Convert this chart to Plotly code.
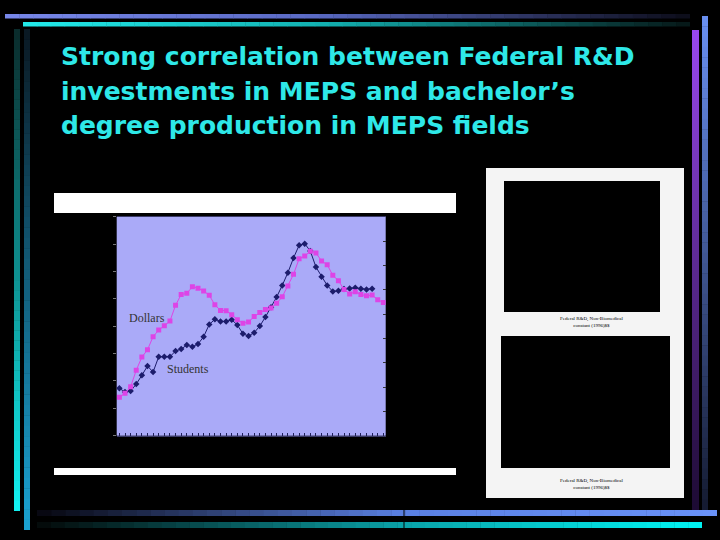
import plotly.graph_objects as go

# federal R&D dollars (non-biomedical, constant 1996 $, billions) - right axis
years_dollars = list(range(1953, 2001))
dollars = [1.58, 1.74, 2.01, 2.69, 3.23, 3.53, 4.07, 4.34, 4.52, 4.71,
           5.36, 5.80, 5.85, 6.12, 6.06, 5.95, 5.77, 5.38, 5.15, 5.14,
           4.97, 4.77, 4.62, 4.67, 4.90, 5.06, 5.19, 5.25, 5.44, 5.71,
           6.15, 6.63, 7.27, 7.38, 7.58, 7.51, 7.18, 7.03, 6.59, 6.37,
           6.01, 5.82, 5.92, 5.80, 5.75, 5.78, 5.59, 5.47]

# bachelor's degrees in MEPS fields (thousands) - left axis
years_students = list(range(1953, 1999))
students = [34.6, 31.9, 32.6, 37.7, 44.1, 50.9, 46.5, 57.7, 57.7, 57.7,
            61.9, 63.3, 66.2, 65.0, 67.0, 72.3, 81.3, 85.0, 83.5, 83.5,
            84.7, 80.9, 74.5, 72.8, 75.3, 80.1, 86.7, 93.8, 101.3, 109.8,
            119.1, 129.8, 139.1, 140.3, 134.9, 123.2, 116.2, 109.8, 105.4, 105.9,
            107.2, 107.6, 108.1, 107.4, 106.9, 107.4]

title_lines = ["Strong correlation between Federal R&D",
               "investments in MEPS and bachelor\u2019s",
               "degree production in MEPS fields"]
caption = "Federal R&D, Non-Biomedical<br>constant (1996)$$"

W, H = 720, 540


def px(x):
    return x / W


def py(y):
    return 1 - y / H


def hex2rgb(h):
    h = h.lstrip("#")
    return [int(h[i:i + 2], 16) for i in (0, 2, 4)]


def mix(stops, t):
    for (t0, c0), (t1, c1) in zip(stops[:-1], stops[1:]):
        if t <= t1:
            f = 0 if t1 == t0 else (t - t0) / (t1 - t0)
            a, b = hex2rgb(c0), hex2rgb(c1)
            return "rgb(%d,%d,%d)" % tuple(round(a[k] + (b[k] - a[k]) * f) for k in range(3))
    return "rgb(%d,%d,%d)" % tuple(hex2rgb(stops[-1][1]))


shapes = []


def rect(x0, y0, x1, y1, color):
    shapes.append(dict(type="rect", xref="paper", yref="paper",
                       x0=px(x0), x1=px(x1), y0=py(y1), y1=py(y0),
                       fillcolor=color, line=dict(width=0), layer="below"))


def grad_bar(x0, y0, x1, y1, stops, horizontal=True, n=48):
    for i in range(n):
        t = (i + 0.5) / n
        c = mix(stops, t)
        if horizontal:
            a = x0 + (x1 - x0) * i / n
            b = x0 + (x1 - x0) * (i + 1) / n + 0.4
            rect(a, y0, min(b, x1), y1, c)
        else:
            a = y0 + (y1 - y0) * i / n
            b = y0 + (y1 - y0) * (i + 1) / n + 0.4
            rect(x0, a, x1, min(b, y1), c)


# slide decoration bars
grad_bar(5, 14, 690, 18.5, [(0, "#7888ea"), (0.45, "#5a6ac4"), (1, "#0c0c18")])
grad_bar(23, 22, 690, 26.5, [(0, "#22eaea"), (0.45, "#12b0b0"), (1, "#061616")])
grad_bar(14, 29, 20, 511, [(0, "#0a2a2a"), (1, "#12f2f2")], horizontal=False)
grad_bar(24, 29, 30, 530, [(0, "#0a1822"), (1, "#1aa2d2")], horizontal=False)
grad_bar(702, 16, 708, 510, [(0, "#6a90f2"), (1, "#141a30")], horizontal=False)
grad_bar(692, 30, 699, 510, [(0, "#9a48f0"), (1, "#1c0a32")], horizontal=False)
grad_bar(37, 510, 717, 516, [(0, "#06060e"), (0.54, "#5a80e2"), (1, "#6a92f8")])
grad_bar(37, 522, 702, 528, [(0, "#040808"), (0.55, "#0aa2a8"), (1, "#00f4f4")])
shapes.append(dict(type="line", xref="paper", yref="paper", x0=px(404), x1=px(404),
                   y0=py(528), y1=py(509), line=dict(color="#000000", width=1)))

# chart picture frame
rect(54, 193, 456, 213, "#ffffff")
rect(54, 468, 456, 475, "#ffffff")

# right panel
rect(486, 168, 684, 498, "#f4f4f4")
rect(504, 181, 660, 312, "#000000")
rect(501, 336, 670, 468, "#000000")

fig = go.Figure()
fig.add_trace(go.Scatter(x=years_students, y=students, mode="lines+markers",
                         line=dict(color="#1c1c6c", width=1),
                         marker=dict(symbol="diamond", size=5, color="#1c1c6c"),
                         showlegend=False))
fig.add_trace(go.Scatter(x=years_dollars, y=dollars, yaxis="y2", mode="lines+markers",
                         line=dict(color="#dd44e6", width=1),
                         marker=dict(symbol="square", size=5, color="#dd44e6"),
                         showlegend=False))

annotations = []
for i, line in enumerate(title_lines):
    annotations.append(dict(text="<b>%s</b>" % line, xref="paper", yref="paper",
                            x=px(59), y=py(57 + 34 * i), xanchor="left", yanchor="middle",
                            showarrow=False,
                            font=dict(family="DejaVu Sans", size=25, color="#2ee8e8")))
annotations.append(dict(text="Dollars", x=1958.0, y=86, xref="x", yref="y", showarrow=False,
                        font=dict(family="Liberation Serif", size=12, color="#333333")))
annotations.append(dict(text="Students", x=1965.2, y=48.5, xref="x", yref="y", showarrow=False,
                        font=dict(family="Liberation Serif", size=12, color="#333333")))
for yc in (322, 484):
    annotations.append(dict(text=caption, xref="paper", yref="paper", x=px(592), y=py(yc),
                            xanchor="center", yanchor="middle", showarrow=False,
                            font=dict(family="Liberation Serif", size=5, color="#000000")))

fig.update_layout(
    width=W, height=H, margin=dict(l=0, r=0, t=0, b=0),
    paper_bgcolor="#000000", plot_bgcolor="#aaaaf8",
    shapes=shapes, annotations=annotations, showlegend=False,
    xaxis=dict(domain=[px(116.7), px(385.7)], range=[1952.52, 2000.42],
               showgrid=False, zeroline=False, showticklabels=False,
               ticks="inside", ticklen=3, tickcolor="#20205a", tick0=1953, dtick=1,
               showline=True, linecolor="#3a3a66", linewidth=1, mirror=True),
    yaxis=dict(domain=[py(435.7), py(216.7)], range=[0, 160], dtick=20,
               showgrid=False, zeroline=False, showticklabels=False,
               ticks="outside", ticklen=3, tickcolor="#777777"),
    yaxis2=dict(overlaying="y", side="right", anchor="x", range=[0, 9], dtick=1,
                showgrid=False, zeroline=False, showticklabels=False,
                ticks="inside", ticklen=3, tickcolor="#333333"),
)

fig.write_html("out.html", config={"displayModeBar": False},
               post_script="document.body.style.margin='0px';document.body.style.overflow='hidden';")
